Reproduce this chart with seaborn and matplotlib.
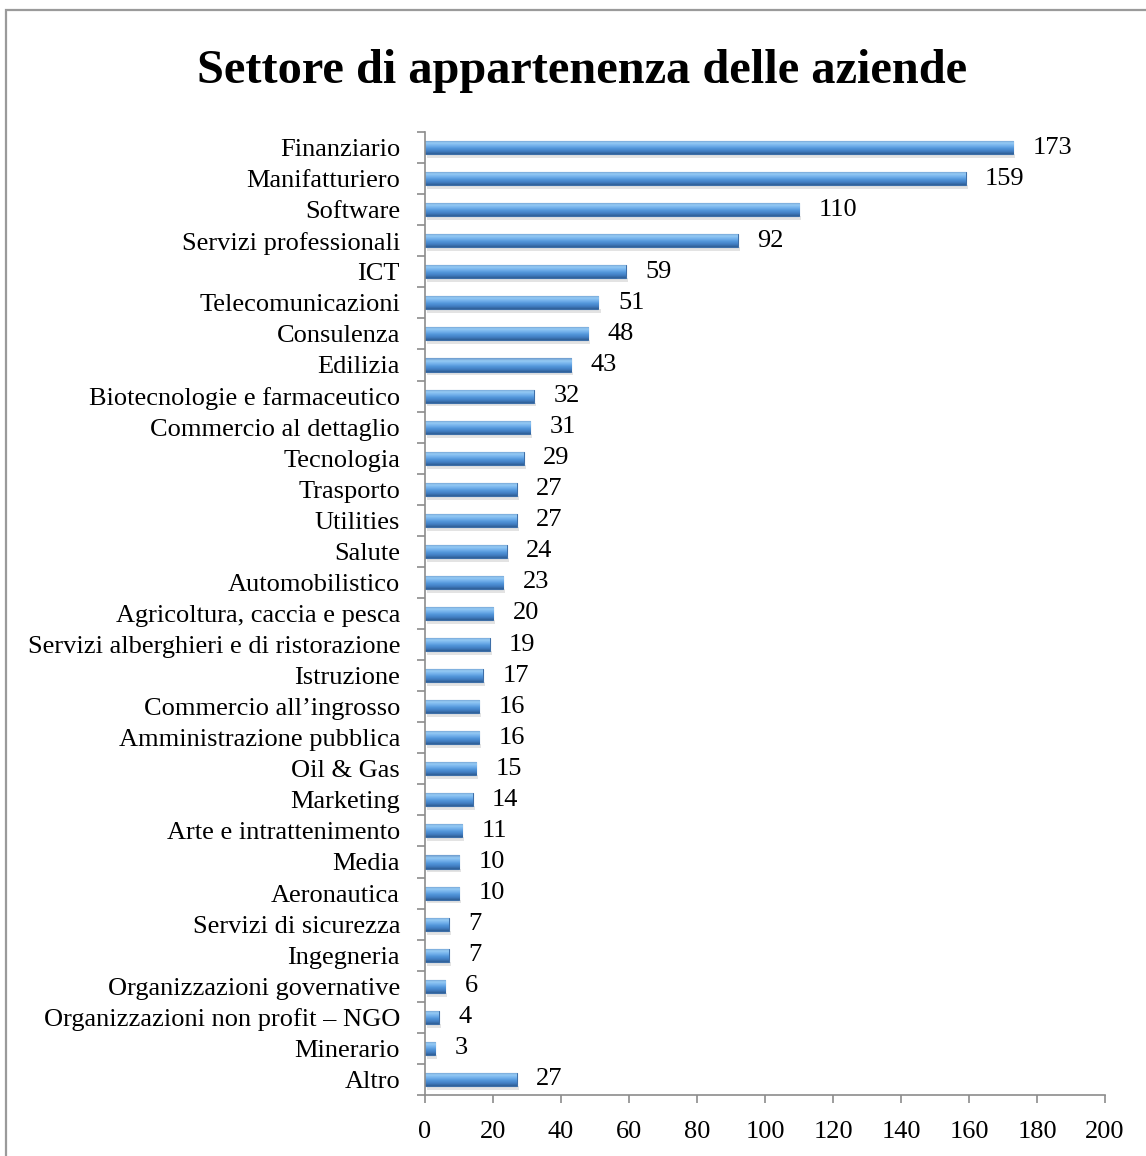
import matplotlib
matplotlib.use("Agg")
import matplotlib.pyplot as plt
import seaborn as sns
import pandas as pd
import numpy as np
from matplotlib.patches import Rectangle
from matplotlib.ticker import FixedLocator
from matplotlib.colors import LinearSegmentedColormap

categories = [
    "Finanziario", "Manifatturiero", "Software", "Servizi professionali", "ICT",
    "Telecomunicazioni", "Consulenza", "Edilizia", "Biotecnologie e farmaceutico",
    "Commercio al dettaglio", "Tecnologia", "Trasporto", "Utilities", "Salute",
    "Automobilistico", "Agricoltura, caccia e pesca",
    "Servizi alberghieri e di ristorazione", "Istruzione", "Commercio all\u2019ingrosso",
    "Amministrazione pubblica", "Oil & Gas", "Marketing", "Arte e intrattenimento",
    "Media", "Aeronautica", "Servizi di sicurezza", "Ingegneria",
    "Organizzazioni governative", "Organizzazioni non profit \u2013 NGO", "Minerario", "Altro",
]
values = [173, 159, 110, 92, 59, 51, 48, 43, 32, 31, 29, 27, 27, 24, 23, 20, 19, 17,
          16, 16, 15, 14, 11, 10, 10, 7, 7, 6, 4, 3, 27]
x_ticks = [0, 20, 40, 60, 80, 100, 120, 140, 160, 180, 200]
title = "Settore di appartenenza delle aziende"

sns.set_theme(style="white")
plt.rcParams['font.family'] = ['Liberation Serif', 'DejaVu Serif']
plt.rcParams['text.color'] = 'black'
plt.rcParams['xtick.color'] = 'black'
plt.rcParams['ytick.color'] = 'black'

df = pd.DataFrame({"Settore": categories, "Aziende": values})

fig = plt.figure(figsize=(11.46, 11.56), dpi=100)
ax = fig.add_axes([0.3709, 0.0528, 0.5934, 0.833])

sns.barplot(data=df, x="Aziende", y="Settore", orient="h", ax=ax,
            color="#4F8FD6", saturation=1, width=0.42,
            edgecolor="#3E6FA8", linewidth=0.8)

ax.set_xlim(0, 200)
ylim = ax.get_ylim()

# gradient shading inside each bar (Excel-like bevel)
grad_cmap = LinearSegmentedColormap.from_list(
    "bevel", ["#6D9ACB", "#95CAF4", "#74B2EC", "#5295DA", "#427FC3", "#2F5E96"])
grad = np.linspace(0, 1, 64).reshape(-1, 1)
for p in list(ax.patches):
    x0, y0 = p.get_x(), p.get_y()
    w, h = p.get_width(), p.get_height()
    # soft shadow under the bar
    sh = Rectangle((x0 + 0.6, y0 + h), w, h * 0.3, facecolor="#DCDCDC",
                   edgecolor="none", zorder=p.get_zorder() - 0.5, alpha=0.8)
    ax.add_patch(sh)
    im = ax.imshow(grad, cmap=grad_cmap, aspect="auto", origin="upper",
                   extent=(x0, x0 + w, y0 + h, y0), zorder=p.get_zorder() + 0.1,
                   interpolation="bilinear")
    im.set_clip_path(p)

ax.set_xlim(0, 200)
ax.set_ylim(ylim)
ax.set_xticks(x_ticks)
ax.set_xticklabels([str(t) for t in x_ticks], fontsize=19)
ax.set_xlabel("")
ax.set_ylabel("")
ax.tick_params(axis="y", which="major", length=0, labelsize=19, pad=18)
ax.yaxis.set_minor_locator(FixedLocator([i - 0.5 for i in range(len(categories) + 1)]))
ax.tick_params(axis="y", which="minor", length=6, color="#8C8C8C", width=1.2, left=True)
ax.tick_params(axis="x", which="major", length=6, color="#8C8C8C", width=1.2,
               bottom=True, labelsize=19, pad=13)

for s in ["top", "right"]:
    ax.spines[s].set_visible(False)
for s in ["left", "bottom"]:
    ax.spines[s].set_color("#8C8C8C")
    ax.spines[s].set_linewidth(1.2)
    ax.spines[s].set_zorder(5)

ax.bar_label(ax.containers[0], labels=[str(v) for v in values], padding=14, fontsize=19)

fig.text(0.508, 0.939, title, ha="center", va="center", fontsize=34.8,
         fontweight="bold", color="black")

# outer frame
fig.patches.append(Rectangle((6 / 1146, -0.01), 1.1, 1 - 10 / 1156 + 0.01,
                             transform=fig.transFigure, fill=False,
                             edgecolor="#9A9A9A", linewidth=1.6))

fig.savefig("out.png", dpi=100)
